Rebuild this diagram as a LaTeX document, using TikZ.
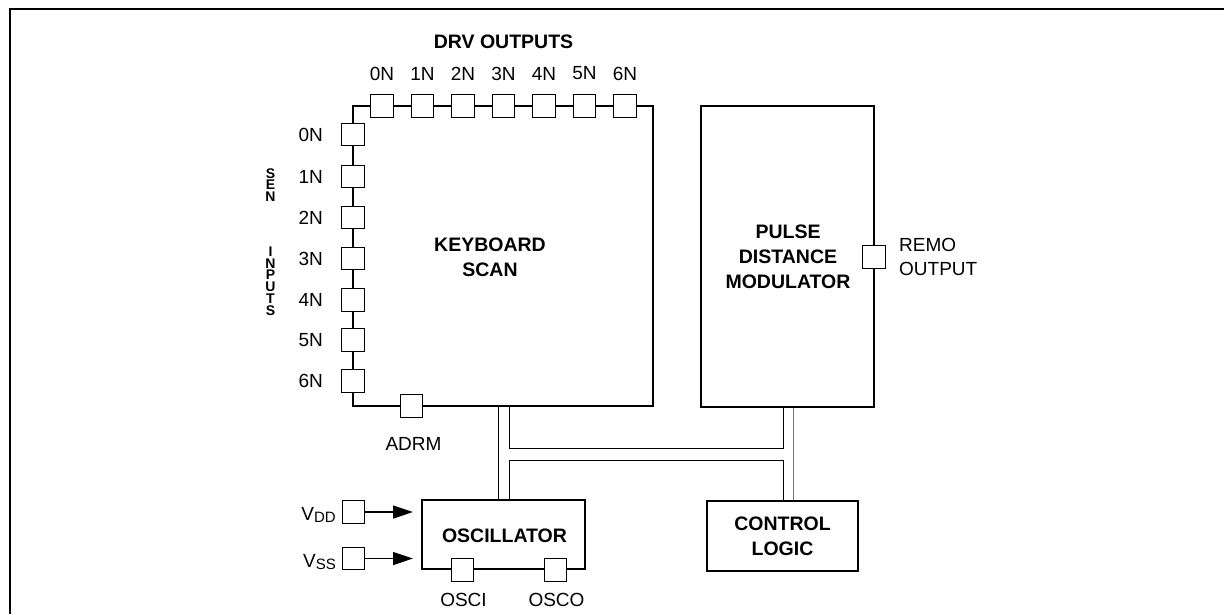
\documentclass[tikz,border=0pt]{standalone}
\usepackage{fontspec}
\setmainfont{Liberation Sans}
\usetikzlibrary{arrows.meta}
\begin{document}
\begin{tikzpicture}[x=1pt,y=-1pt,
  blk/.style={draw,line width=2.6pt,rectangle,inner sep=0pt},
  pad/.style={draw,line width=1.1pt,fill=white,rectangle,minimum size=22.5pt,inner sep=0pt},
  lbl/.style={inner sep=0pt,font=\fontsize{19}{24}\selectfont},
  ttl/.style={inner sep=0pt,align=center,font=\bfseries\fontsize{19.5}{25}\selectfont},
  vert/.style={inner sep=0pt,align=center,font=\bfseries\fontsize{14}{11.8}\selectfont},
  bus/.style={line width=1pt},
  arr/.style={line width=1.2pt,-{Triangle[length=20pt,width=13pt]}}]
\useasboundingbox (0,0) rectangle (1224,614);
% outer frame
\draw[line width=2.6pt] (10,614) -- (10,9) -- (1224,9);

% main blocks
\node[blk,minimum width=300pt,minimum height=300pt] (kbd) at (503,256) {};
\node[ttl] (kbdt) at (490,257) {KEYBOARD\\SCAN};
\node[blk,minimum width=173pt,minimum height=301pt] (pdm) at (787.5,256.5) {};
\node[ttl] (pdmt) at (788,256.5) {PULSE\\DISTANCE\\MODULATOR};
\node[blk,minimum width=163pt,minimum height=69pt] (osc) at (503.5,534.5) {};
\node[ttl] (osct) at (504.5,535.5) {OSCILLATOR};
\node[blk,minimum width=151pt,minimum height=70pt] (ctl) at (782.5,536) {};
\node[ttl] (ctlt) at (782.5,536) {CONTROL\\LOGIC};

% DRV outputs
\node[ttl] (drvt) at (503.5,42) {DRV OUTPUTS};
\foreach \i/\x in {0/382,1/422.5,2/463,3/503.5,4/544,5/584.5,6/625}{
  \node[pad] (d\i) at (\x,106) {};
  \node[lbl] (dl\i) at (\x,73.5) {\i N};
}

% SEN inputs
\foreach \i/\y in {0/134.5,1/176.5,2/217.5,3/258.5,4/300,5/340,6/381}{
  \node[pad] (s\i) at (353,\y) {};
  \node[lbl,anchor=east] (sl\i) at (323,\y) {\i N};
}
\node[vert] (sen) at (270.5,185) {S\\E\\N};
\node[vert] (inp) at (270.5,281) {I\\N\\P\\U\\T\\S};

% ADRM
\node[pad] (adrm) at (411.5,406) {};
\node[lbl] (adrml) at (413.5,444) {ADRM};

% REMO output
\node[pad] (remo) at (874,257) {};
\node[lbl,anchor=west,align=left] (remol) at (899,257) {REMO\\OUTPUT};

% oscillator pads
\node[pad] (osci) at (462.5,570) {};
\node[lbl] (oscil) at (463.5,600) {OSCI};
\node[pad] (osco) at (555.5,570) {};
\node[lbl] (oscol) at (556.5,600) {OSCO};

% supply inputs
\node[pad] (vdd) at (353.5,512) {};
\node[lbl,anchor=base east] (vddl) at (336,520) {V\raisebox{-2.5pt}{\fontsize{15}{15}\selectfont DD}};
\node[pad] (vss) at (353.5,558.5) {};
\node[lbl,anchor=base east] (vssl) at (336,567) {V\raisebox{-2.5pt}{\fontsize{15}{15}\selectfont SS}};
\coordinate (vddtip) at (413,512);
\coordinate (vsstip) at (413,558.5);
\draw[arr] (vdd.east) -- (vddtip);
\draw[arr] (vss.east) -- (vsstip);

% bus
\coordinate (bx1) at (498,0);
\coordinate (bx2) at (509,0);
\coordinate (bx3) at (783,0);
\coordinate (bx4) at (793,0);
\coordinate (by1) at (0,448);
\coordinate (by2) at (0,460);
\draw[bus] (bx1 |- kbd.south) -- (bx1 |- osc.north);
\draw[bus] (bx2 |- kbd.south) -- (bx2 |- by1) -- (bx3 |- by1) -- (bx3 |- pdm.south);
\draw[bus] (bx2 |- osc.north) -- (bx2 |- by2) -- (bx3 |- by2) -- (bx3 |- ctl.north);
\draw[bus,draw=black!55] (bx4 |- pdm.south) -- (bx4 |- ctl.north);
\end{tikzpicture}
\end{document}
